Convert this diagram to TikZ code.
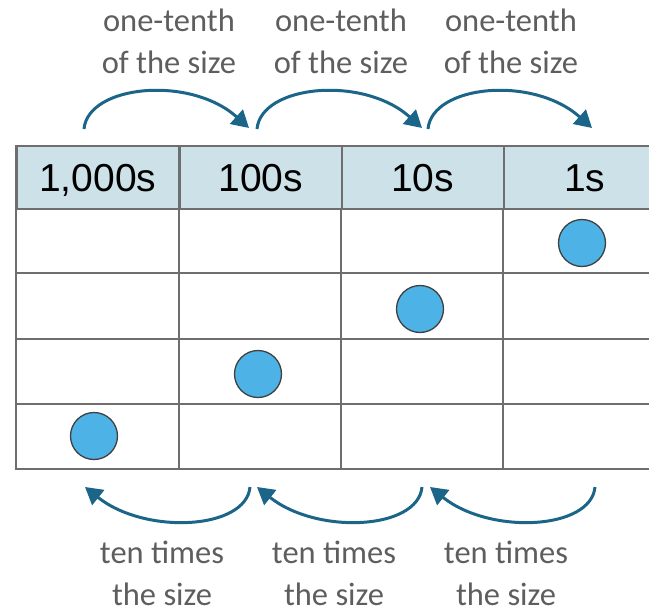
\documentclass[tikz,border=0pt]{standalone}
\usepackage{fontspec}
\setmainfont{Carlito}
\newfontfamily\arialfont{Liberation Sans}
\usetikzlibrary{arrows.meta}
\definecolor{hdrfill}{HTML}{CCE1E8}
\definecolor{dotfill}{HTML}{4DB3E6}
\definecolor{arrowc}{HTML}{1B6589}
\definecolor{labc}{HTML}{5E5E5E}
\definecolor{gridc}{HTML}{6E6E6E}
\tikzset{
  hdr/.style={draw=gridc, line width=1.5pt, fill=hdrfill, minimum width=162pt, minimum height=63pt, inner sep=0pt, text height=28pt, text depth=0pt, font=\arialfont\fontsize{39}{39}\selectfont, anchor=north west},
  dot/.style={circle, draw=black!75, line width=1.3pt, fill=dotfill, minimum size=47pt, inner sep=0pt},
  lab/.style={text=labc, align=center, font=\fontsize{32.5}{42}\selectfont, inner sep=0pt},
  arr/.style={draw=arrowc, line width=3pt, -{Triangle[length=17pt,width=19pt]}},
  gridl/.style={draw=gridc, line width=1.5pt}
}
\begin{document}
\begin{tikzpicture}[x=1pt,y=-1pt]
\useasboundingbox (0,0) rectangle (649,613);
\clip (0,0) rectangle (649,613);
% header
\node[hdr] (h1) at (16,145) {1,000s};
\node[hdr] (h2) at (179,145) {100s};
\node[hdr] (h3) at (341,145) {10s};
\node[hdr] (h4) at (503,145) {1s};
% grid
\foreach \y in {273,339,404} \draw[gridl] (16,\y) -- (660,\y);
\draw[gridl, line width=2pt] (16,145) -- (16,469) -- (660,469);
\foreach \x in {179,341,503} \draw[gridl] (\x,208) -- (\x,469);
% dots
\node[dot] (d1) at (582,243) {};
\node[dot] (d2) at (420,309) {};
\node[dot] (d3) at (258,374) {};
\node[dot] (d4) at (94,436) {};
% top labels
\node[lab] (t1) at (169,41) {one-tenth\\of the size};
\node[lab] (t2) at (341,41) {one-tenth\\of the size};
\node[lab] (t3) at (511,41) {one-tenth\\of the size};
% bottom labels
\node[lab] (b1) at (162,573) {ten times\\the size};
\node[lab] (b2) at (334,573) {ten times\\the size};
\node[lab] (b3) at (506,573) {ten times\\the size};
% top arrows
\coordinate (ta1) at (84,129);
\coordinate (tb1) at (249,128);
\coordinate (ta2) at (257,129);
\coordinate (tb2) at (422,128);
\coordinate (ta3) at (428,129);
\coordinate (tb3) at (592,128);
\draw[arr] (ta1) .. controls (88,85) and (190,75) .. (tb1);
\draw[arr] (ta2) .. controls (261,85) and (363,75) .. (tb2);
\draw[arr] (ta3) .. controls (432,85) and (533,75) .. (tb3);
% bottom arrows
\coordinate (ba1) at (250,487);
\coordinate (bb1) at (85,487);
\coordinate (ba2) at (422,487);
\coordinate (bb2) at (257,487);
\coordinate (ba3) at (595,487);
\coordinate (bb3) at (430,487);
\draw[arr] (ba1) .. controls (246,530) and (145,535) .. (bb1);
\draw[arr] (ba2) .. controls (418,530) and (317,535) .. (bb2);
\draw[arr] (ba3) .. controls (591,530) and (490,535) .. (bb3);
\end{tikzpicture}
\end{document}
